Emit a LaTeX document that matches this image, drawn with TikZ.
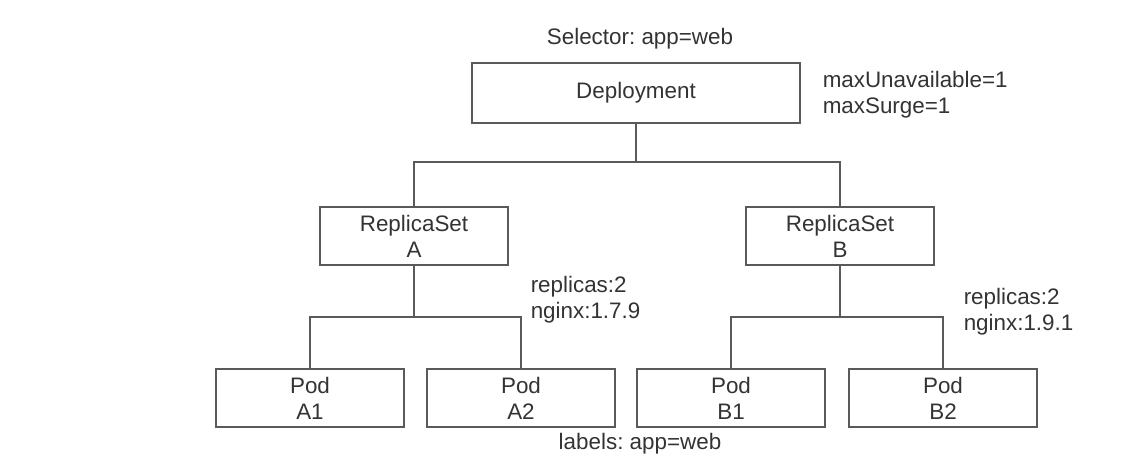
\documentclass[tikz,border=0pt]{standalone}
\usepackage{fontspec}
\setmainfont{Liberation Sans}
\usepackage{xcolor}
\definecolor{boxline}{HTML}{5A5A5A}
\definecolor{txt}{HTML}{333333}
\frenchspacing

\begin{document}
\begin{tikzpicture}[x=0.5pt, y=-0.5pt, line width=0.75pt, draw=boxline,
    every node/.style={font=\fontsize{11.2pt}{13pt}\selectfont, text=txt, align=center, inner sep=0pt},
    box/.style={draw=boxline, minimum width=94pt, minimum height=29pt},
    note/.style={align=left, anchor=west}]
    \useasboundingbox (0,0) rectangle (1140,470);
    \node (sel) at (640,39) {Selector: app=web};
    \node[box, minimum width=164pt, minimum height=30pt] (dep) at (636,93) {Deployment\vphantom{y}};
    \node[note] (strat) at (822,95) {maxUnavailable=1\\maxSurge=1};
    \node[box] (rsA) at (414,236) {ReplicaSet\\A};
    \node[box] (rsB) at (840,236) {ReplicaSet\\B};
    \node[note] (specA) at (530,300) {replicas:2\\nginx:1.7.9};
    \node[note] (specB) at (963,312) {replicas:2\\nginx:1.9.1};
    \node[box] (a1) at (310,398) {Pod\\A1};
    \node[box] (a2) at (521,398) {Pod\\A2};
    \node[box] (b1) at (731,398) {Pod\\B1};
    \node[box] (b2) at (943,398) {Pod\\B2};
    \node (lab) at (640,444) {labels: app=web};
    \coordinate (depj) at (636,162);
    \coordinate (rsAj) at (414,317);
    \coordinate (rsBj) at (840,317);
        \draw (dep) -- (depj) -| (rsA);
        \draw (depj) -| (rsB);
        \draw (rsA) -- (rsAj) -| (a1);
        \draw (rsAj) -| (a2);
        \draw (rsB) -- (rsBj) -| (b1);
        \draw (rsBj) -| (b2);
\end{tikzpicture}
\end{document}
